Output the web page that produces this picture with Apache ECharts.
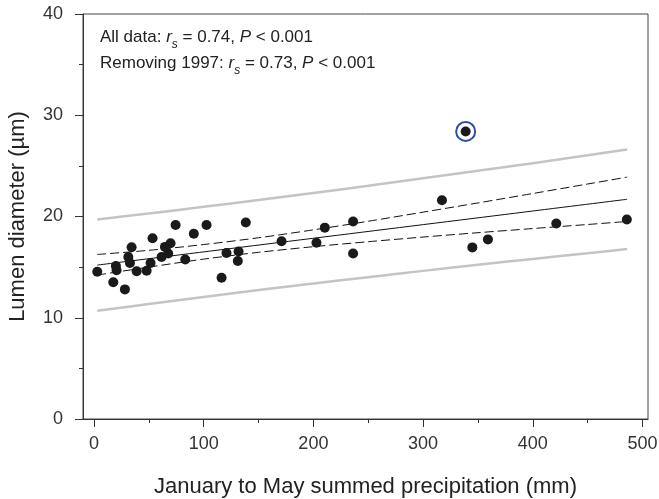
<!DOCTYPE html>
<html>
<head>
<meta charset="utf-8">
<script src="https://cdn.jsdelivr.net/npm/echarts@6/dist/echarts.min.js"></script>
<style>
  html, body { margin: 0; padding: 0; background: #ffffff; }
  #chart { width: 659px; height: 499px; }
</style>
</head>
<body>
<div id="chart"></div>
<script>
// January–May summed precipitation (mm) and lumen diameter (µm), one point per year
const precip = [3, 17.6, 20, 20.6, 28.2, 31.3, 32.8, 34.3, 38.9, 48, 51.6, 53.4, 61.6, 64.7, 67.7, 69.8,
  74.4, 83.2, 91, 102.6, 116.3, 120.8, 131.1, 131.8, 138.4, 171, 202.8, 210.4, 236.2, 236.2,
  317.2, 344.9, 359.1, 421.4, 485.7];
const lumen = [14.55, 13.5, 15.1, 14.7, 12.8, 16.0, 15.4, 16.96, 14.6, 14.65, 15.4, 17.85, 16.0, 17.0, 16.35, 17.35,
  19.16, 15.75, 18.3, 19.16, 13.95, 16.4, 15.6, 16.55, 19.4, 17.55, 17.4, 18.9, 19.5, 16.35,
  21.6, 16.95, 17.74, 19.3, 19.7];

// The 1997 observation (circled)
const precip1997 = [338.8];
const lumen1997 = [28.4];

// Regression line
const fitX = [3, 486];
const fitY = [15.20, 21.70];

// Confidence and prediction bands sampled along precipitation
const bandX = [3, 50, 100, 150, 200, 250, 300, 350, 400, 450, 486];
const ciUpper = [16.25, 16.66, 17.23, 17.90, 18.68, 19.53, 20.43, 21.34, 22.27, 23.21, 23.89];
const ciLower = [14.22, 15.00, 15.79, 16.46, 17.02, 17.51, 17.97, 18.40, 18.81, 19.21, 19.51];
const piUpper = [19.71, 20.30, 20.96, 21.63, 22.32, 23.03, 23.77, 24.51, 25.27, 26.05, 26.62];
const piLower = [10.69, 11.36, 12.06, 12.73, 13.38, 14.01, 14.63, 15.23, 15.81, 16.37, 16.78];

// Axis ticks
const xMajorTicks = [0, 100, 200, 300, 400, 500];
const xMinorTicks = [50, 150, 250, 350, 450];

const zip = (xs, ys) => xs.map((x, i) => [x, ys[i]]);

const FONT = 'Liberation Sans, Arial, Helvetica, sans-serif';
const chart = echarts.init(document.getElementById('chart'), null, { renderer: 'canvas' });

const lineSeries = (xs, ys, style, z) => ({
  type: 'line',
  data: zip(xs, ys),
  showSymbol: false,
  smooth: 0.3,
  silent: true,
  lineStyle: style,
  z: z
});

chart.setOption({
  animation: false,
  backgroundColor: '#ffffff',
  grid: {
    left: 83, right: 11, top: 14, bottom: 80,
    containLabel: false, outerBoundsMode: 'none',
    show: true, borderColor: '#444', borderWidth: 1, backgroundColor: 'transparent'
  },
  xAxis: [{
    type: 'value', min: -10, max: 505,
    name: 'January to May summed precipitation (mm)',
    nameLocation: 'middle', nameGap: 57,
    nameTextStyle: { fontFamily: FONT, fontSize: 22, color: '#222' },
    axisLine: { show: true, onZero: false, lineStyle: { color: '#333', width: 1 } },
    axisTick: { show: true, length: 8, customValues: xMajorTicks, lineStyle: { color: '#333' } },
    axisLabel: { customValues: xMajorTicks, margin: 16, fontFamily: FONT, fontSize: 18, color: '#333' },
    splitLine: { show: false }
  }, {
    type: 'value', min: -10, max: 505, position: 'bottom',
    axisLine: { show: false, onZero: false },
    axisTick: { show: true, length: 4, customValues: xMinorTicks, lineStyle: { color: '#333' } },
    axisLabel: { show: false },
    splitLine: { show: false }
  }],
  yAxis: {
    type: 'value', min: 0, max: 40, interval: 10,
    name: 'Lumen diameter (\u00b5m)',
    nameLocation: 'middle', nameGap: 54, nameRotate: 90,
    nameTextStyle: { fontFamily: FONT, fontSize: 22, color: '#222' },
    axisLine: { show: true, onZero: false, lineStyle: { color: '#333', width: 1 } },
    axisTick: { show: true, length: 8, lineStyle: { color: '#333' } },
    minorTick: { show: true, splitNumber: 2, length: 4, lineStyle: { color: '#333' } },
    axisLabel: { margin: 20, fontFamily: FONT, fontSize: 18, color: '#333' },
    splitLine: { show: false }
  },
  graphic: [{
    type: 'text', left: 100, top: 29,
    style: {
      text: '{n|All data: }{i|r}{s|s}{n| = 0.74, }{i|P}{n| < 0.001}\n' +
            '{n|Removing 1997: }{i|r}{s|s}{n| = 0.73, }{i|P}{n| < 0.001}',
      fill: '#222',
      rich: {
        n: { fontFamily: FONT, fontSize: 17, lineHeight: 26, fill: '#222' },
        i: { fontFamily: FONT, fontSize: 17, fontStyle: 'italic', lineHeight: 26, fill: '#222' },
        s: { fontFamily: FONT, fontSize: 12, fontStyle: 'italic', lineHeight: 20, verticalAlign: 'bottom', fill: '#222' }
      }
    }
  }],
  series: [
    lineSeries(bandX, piUpper, { color: '#c4c4c4', width: 2.5 }, 1),
    lineSeries(bandX, piLower, { color: '#c4c4c4', width: 2.5 }, 1),
    lineSeries(bandX, ciUpper, { color: '#111', width: 1, type: [9, 4] }, 2),
    lineSeries(bandX, ciLower, { color: '#111', width: 1, type: [9, 4] }, 2),
    lineSeries(fitX, fitY, { color: '#111', width: 1 }, 3),
    {
      type: 'scatter', data: zip(precip, lumen), symbol: 'circle', symbolSize: 10,
      itemStyle: { color: '#1a1a1a', opacity: 1 }, z: 5, silent: true
    },
    {
      type: 'scatter', data: zip(precip1997, lumen1997), symbol: 'circle', symbolSize: 10,
      itemStyle: { color: '#1a1a1a', opacity: 1 }, z: 5, silent: true
    },
    {
      type: 'scatter', data: zip(precip1997, lumen1997), symbol: 'circle', symbolSize: 19,
      itemStyle: { color: 'rgba(0,0,0,0)', borderColor: '#2d4ea3', borderWidth: 2, opacity: 1 }, z: 6, silent: true
    }
  ]
});
</script>
</body>
</html>
